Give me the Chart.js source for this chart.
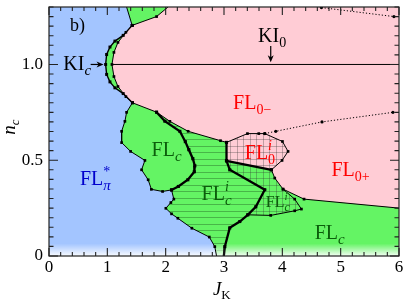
<!DOCTYPE html>
<html><head><meta charset="utf-8">
<script src="https://cdn.jsdelivr.net/npm/chart.js@4"></script>
<style>html,body{margin:0;padding:0;background:#fff}canvas{display:block}</style>
</head><body>
<canvas id="c" width="415" height="302" style="width:415px;height:302px"></canvas>
<script>
// ---- axis ticks ----
const xTickValues = [0, 1, 2, 3, 4, 5, 6];
const yTickValues = [0, 0.5, 1.0];
const yTickText = ['0', '0.5', '1.0'];

// ---- phase boundaries [J_K, n_c] ----
const sliverEdge = [[1.33, 1.3], [1.426, 1.204]];
const outerCrescent = [[1.426, 1.204], [1.272, 1.152], [1.130, 1.122], [1.045, 1.091], [0.988, 1.052], [0.971, 1.0], [0.988, 0.948], [1.045, 0.909], [1.130, 0.878], [1.272, 0.848], [1.43, 0.80]];
const innerCrescent = [[1.426, 1.204], [1.318, 1.168], [1.182, 1.115], [1.113, 1.063], [1.079, 1.0], [1.113, 0.937], [1.182, 0.885], [1.318, 0.832], [1.43, 0.80]];
const sliverTop = [[1.426, 1.204], [1.844, 1.25], [2.04, 1.3]];
const flcBlue = [[1.43, 0.80], [1.330, 0.750], [1.301, 0.703], [1.245, 0.651], [1.245, 0.592], [1.399, 0.546], [1.644, 0.499], [1.587, 0.450], [1.700, 0.398], [1.755, 0.348], [1.947, 0.337], [2.10, 0.345]];
const flciBlue = [[2.10, 0.345], [2.140, 0.297], [2.089, 0.279], [2.003, 0.249], [2.101, 0.220], [2.209, 0.197], [2.449, 0.145], [2.748, 0.099], [2.842, 0.049], [2.872, 0]];
const pinkUpper = [[1.43, 0.80], [1.844, 0.751], [2.072, 0.703], [2.385, 0.651], [2.940, 0.602], [3.043, 0.593]];
const fl0iTop = [[3.043, 0.593], [3.402, 0.639], [3.596, 0.639], [3.699, 0.639], [4.002, 0.598], [4.098, 0.546], [3.995, 0.499], [3.813, 0.450]];
const fl0iBottom = [[3.043, 0.497], [3.813, 0.450]];
const pinkLower = [[3.813, 0.450], [3.870, 0.407], [4.012, 0.349], [4.372, 0.297], [6, 0.25]];
const smallEdge = [[4.012, 0.349], [4.212, 0.297], [4.327, 0.245], [4.212, 0.236], [3.801, 0.212], [3.408, 0.215]];
const thickLeft = [[1.844, 0.751], [1.986, 0.704], [2.243, 0.651], [2.337, 0.597], [2.397, 0.555], [2.466, 0.508], [2.500, 0.471], [2.491, 0.440], [2.380, 0.398], [2.217, 0.363], [2.10, 0.345]];
const thickCenter = [[3.043, 0.593], [3.043, 0.497], [3.099, 0.450], [3.699, 0.346], [3.545, 0.257], [3.408, 0.215], [3.271, 0.180], [3.099, 0.147], [3.014, 0.049], [2.997, 0]];
const dottedLow = [[3.699, 0.639], [3.887, 0.651], [4.680, 0.700], [5.896, 0.750]];
const dottedTop = [[4.670, 1.297], [5.913, 1.250]];
const kiLine = [[1.079, 1.0], [6, 1.0]];

// ---- polygons assembled from the boundaries ----
const rev = a => a.slice().reverse();
const framePoly = [[0, 0], [6, 0], [6, 1.3], [0, 1.3]];
const greenPoly = [...sliverEdge, ...outerCrescent, ...flcBlue, ...flciBlue, [6, 0], [6, 1.3]];
const pinkPoly = [...rev(sliverTop), ...innerCrescent, ...pinkUpper, ...fl0iBottom, ...pinkLower, [6, 1.3]];
const fl0iPoly = [...fl0iTop, ...rev(fl0iBottom)];
const smallPoly = [...fl0iBottom, ...pinkLower.slice(0, 3), ...smallEdge, ...rev(thickCenter.slice(1, 6))];
const flciPoly = [...pinkUpper.slice(1), ...thickCenter, ...rev(flciBlue), ...rev(thickLeft)];
const fadePoly = [[0, 0], [6, 0], [6, 0.065], [0, 0.065]];

const SERIF = '"Liberation Serif", "DejaVu Serif", serif';
const BLUE = '#a3c5ff', PINK = '#ffccd5', GREEN = '#64f464';

const cv = document.getElementById('c');
const c2d = cv.getContext('2d');
function pattern(h, v, col) {
  const t = document.createElement('canvas'); t.width = 13; t.height = 13;
  const g = t.getContext('2d'); g.fillStyle = col;
  if (h) { g.fillRect(0, 3, 13, 1); g.fillRect(0, 9, 13, 1); }
  if (v) { g.fillRect(3, 0, 1, 13); g.fillRect(9, 0, 1, 13); }
  return c2d.createPattern(t, 'repeat');
}
const hatchH = pattern(true, false, 'rgba(30,90,30,0.40)');
const hatchGrid = pattern(true, true, 'rgba(50,50,50,0.30)');

const xy = a => a.map(([x, y]) => ({x, y}));
let ord = 100;
function poly(pts, bg) {
  return {data: xy(pts), showLine: true, fill: 'shape', backgroundColor: bg, borderWidth: 0, pointRadius: 0, tension: 0, order: ord--};
}
const isEdge = c => c.raw && (c.raw.x <= 0 || c.raw.x >= 6 || c.raw.y <= 0 || c.raw.y >= 1.3);
function line(pts, w, r, extra) {
  return Object.assign({data: xy(pts), showLine: true, fill: false, borderColor: '#000', borderWidth: w, tension: 0,
    pointStyle: 'rect', pointRadius: c => isEdge(c) ? 0 : r, pointBackgroundColor: '#000', pointBorderWidth: 0, order: ord--}, extra || {});
}

const datasets = [
  poly(framePoly, BLUE),
  poly(greenPoly, GREEN),
  poly(pinkPoly, PINK),
  poly(flciPoly, hatchH),
  poly(fl0iPoly, hatchGrid),
  poly(smallPoly, hatchGrid),
  poly(fadePoly, c => {
    const ch = c.chart; if (!ch.chartArea) return 'rgba(255,255,255,0)';
    const y0 = ch.scales.y.getPixelForValue(0), y1 = ch.scales.y.getPixelForValue(0.065);
    const g = ch.ctx.createLinearGradient(0, y1, 0, y0);
    g.addColorStop(0, 'rgba(255,255,255,0)'); g.addColorStop(1, 'rgba(255,255,255,0.93)');
    return g;
  }),
  line(sliverEdge, 1, 1.9),
  line(sliverTop, 1, 1.9),
  line(innerCrescent, 1, 1.9),
  line(outerCrescent, 1.4, 2.1),
  line(pinkUpper, 1, 1.9),
  line(fl0iTop, 1, 1.9),
  line(pinkLower, 1, 1.9),
  line(smallEdge, 1, 1.9),
  line(flcBlue, 1, 1.9),
  line(flciBlue, 1, 1.9),
  line(kiLine, 1, 0),
  line(dottedLow, 1, 1.6, {borderDash: [1.2, 2], pointStyle: 'circle'}),
  line(dottedTop, 1, 1.6, {borderDash: [1.2, 2], pointStyle: 'circle'}),
  line(thickLeft, 2.3, 2.2),
  line(thickCenter, 2.3, 2.2),
  line(fl0iBottom, 2.3, 2.2),
];

// ---- annotations ----
const IT = true;
const labels = [
  {at: [0.36, 1.174], color: '#000', parts: [['b)', 18]]},
  {at: [0.531, 0.372], color: '#0000cc', parts: [['FL', 20], ['*', 14, false, -9, false], ['π', 15, IT, 5]]},
  {at: [1.759, 0.520], color: '#0b5e0b', parts: [['FL', 20], ['c', 15, IT, 5]]},
  {at: [2.615, 0.290], color: '#0b5e0b', parts: [['FL', 20], ['i', 14, IT, -9, false], ['c', 15, IT, 5]]},
  {at: [3.356, 0.506], color: '#ff0000', parts: [['FL', 20], ['i', 14, IT, -9, false], ['0', 14, false, 5]]},
  {at: [3.716, 0.255], color: '#0b5e0b', parts: [['FL', 16], ['i', 11, IT, -7, false], ['c', 12, IT, 4]]},
  {at: [3.156, 0.768], color: '#ff0000', parts: [['FL', 20], ['0−', 14, false, 5]]},
  {at: [4.841, 0.419], color: '#ff0000', parts: [['FL', 20], ['0+', 14, false, 5]]},
  {at: [4.555, 0.089], color: '#0b5e0b', parts: [['FL', 20], ['c', 15, IT, 5]]},
  {at: [3.584, 1.117], color: '#000', parts: [['KI', 20], ['0', 14, false, 5]]},
  {at: [0.245, 0.970], color: '#000', parts: [['KI', 20], ['c', 15, IT, 5]]},
];
const arrows = [
  {from: [0.714, 1.0], to: [0.935, 1.0]},
  {from: [3.801, 1.096], to: [3.801, 1.012]},
];

function rich(ctx, x, y, parts) {
  let cx = x;
  for (const [t, s, it, dy, adv] of parts) {
    ctx.font = (it ? 'italic ' : '') + s + 'px ' + SERIF;
    ctx.fillText(t, cx, y + (dy || 0));
    if (adv !== false) cx += ctx.measureText(t).width;
  }
}

const decor = {
  id: 'decor',
  afterDatasetsDraw(chart) {
    const {ctx, chartArea: a, scales: {x, y}} = chart;
    ctx.save();
    // frame
    ctx.strokeStyle = '#222'; ctx.lineWidth = 1.2;
    ctx.strokeRect(a.left, a.top, a.right - a.left, a.bottom - a.top);
    // inward ticks on all sides
    ctx.lineWidth = 1.1; ctx.beginPath();
    for (let k = 0; k <= 30; k++) {
      const px = x.getPixelForValue(k * 0.2), L = (k % 5 === 0) ? 8 : 4;
      ctx.moveTo(px, a.bottom); ctx.lineTo(px, a.bottom - L);
      ctx.moveTo(px, a.top); ctx.lineTo(px, a.top + L);
    }
    for (let k = 0; k <= 26; k++) {
      const py = y.getPixelForValue(k * 0.05), L = (k % 10 === 0) ? 9 : 4.5;
      ctx.moveTo(a.left, py); ctx.lineTo(a.left + L, py);
      ctx.moveTo(a.right, py); ctx.lineTo(a.right - L, py);
    }
    ctx.stroke();
    // arrows
    ctx.strokeStyle = '#000'; ctx.fillStyle = '#000'; ctx.lineWidth = 1.2;
    for (const ar of arrows) {
      const x0 = x.getPixelForValue(ar.from[0]), y0 = y.getPixelForValue(ar.from[1]);
      const x1 = x.getPixelForValue(ar.to[0]), y1 = y.getPixelForValue(ar.to[1]);
      const ang = Math.atan2(y1 - y0, x1 - x0);
      ctx.beginPath(); ctx.moveTo(x0, y0); ctx.lineTo(x1 - 4 * Math.cos(ang), y1 - 4 * Math.sin(ang)); ctx.stroke();
      ctx.beginPath(); ctx.moveTo(x1, y1);
      ctx.lineTo(x1 - 7 * Math.cos(ang) + 3 * Math.sin(ang), y1 - 7 * Math.sin(ang) - 3 * Math.cos(ang));
      ctx.lineTo(x1 - 5 * Math.cos(ang), y1 - 5 * Math.sin(ang));
      ctx.lineTo(x1 - 7 * Math.cos(ang) - 3 * Math.sin(ang), y1 - 7 * Math.sin(ang) + 3 * Math.cos(ang));
      ctx.closePath(); ctx.fill();
    }
    // labels
    ctx.textBaseline = 'alphabetic'; ctx.textAlign = 'left';
    for (const lb of labels) {
      ctx.fillStyle = lb.color;
      rich(ctx, x.getPixelForValue(lb.at[0]), y.getPixelForValue(lb.at[1]), lb.parts);
    }
    // axis titles
    ctx.fillStyle = '#000';
    rich(ctx, x.getPixelForValue(2.81), 295, [['J', 19, IT], ['K', 13, false, 4]]);
    ctx.translate(15, y.getPixelForValue(0.675)); ctx.rotate(-Math.PI / 2);
    rich(ctx, -8, 0, [['n', 19, IT], ['c', 13, IT, 4]]);
    ctx.restore();
  }
};

new Chart(cv, {
  type: 'scatter',
  data: {datasets},
  options: {
    responsive: false, animation: false, devicePixelRatio: 1,
    layout: {padding: {left: 0, right: 16, top: 7, bottom: 0}},
    plugins: {legend: {display: false}, tooltip: {enabled: false}},
    events: [],
    scales: {
      x: {type: 'linear', min: 0, max: 6,
        afterFit(s) { s.height = 46; s.paddingLeft = 0; s.paddingRight = 0; },
        grid: {display: false, drawTicks: false}, border: {display: false},
        ticks: {stepSize: 1, padding: 1, color: '#000', font: {family: SERIF, size: 17},
          callback: v => xTickValues.includes(v) ? String(v) : ''}},
      y: {type: 'linear', min: 0, max: 1.3,
        afterFit(s) { s.width = 49; s.paddingTop = 0; s.paddingBottom = 0; },
        grid: {display: false, drawTicks: false}, border: {display: false},
        ticks: {stepSize: 0.5, includeBounds: false, padding: 6, color: '#000', font: {family: SERIF, size: 17},
          callback: v => { const i = yTickValues.findIndex(t => Math.abs(t - v) < 1e-6); return i >= 0 ? yTickText[i] : ''; }}}
    }
  },
  plugins: [decor]
});
</script></body></html>
